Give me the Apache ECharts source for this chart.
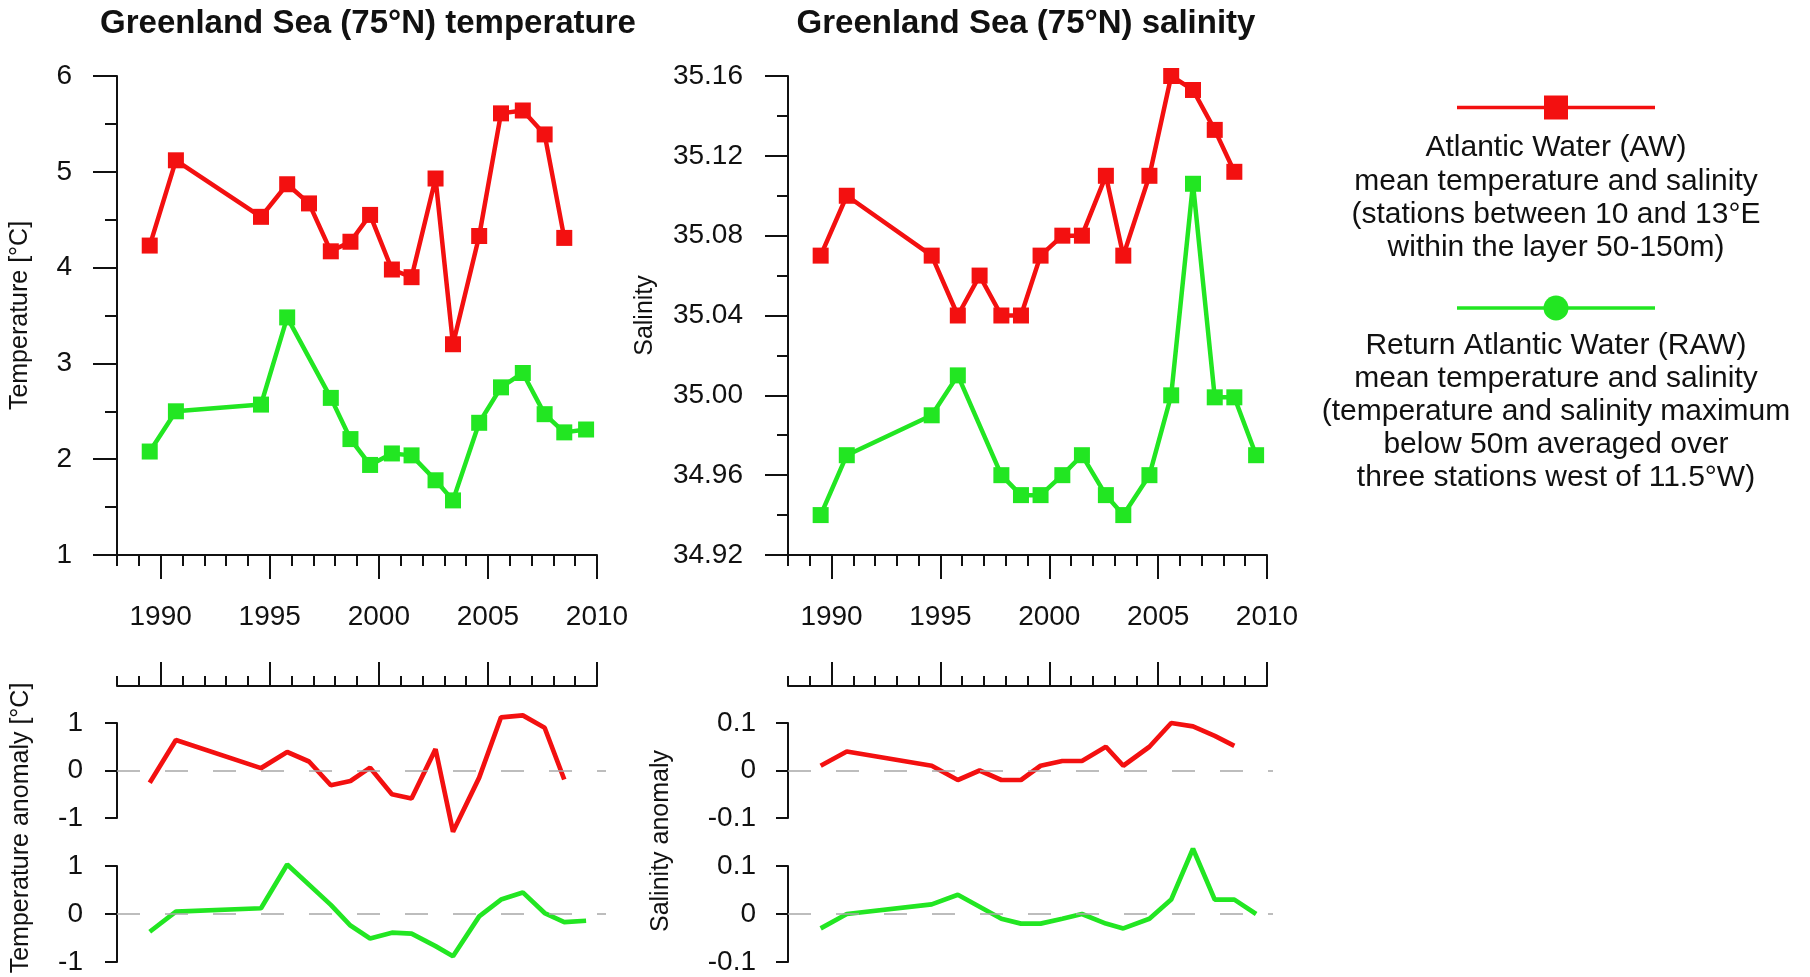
<!DOCTYPE html>
<html><head><meta charset="utf-8">
<script src="https://cdn.jsdelivr.net/npm/echarts@6/dist/echarts.min.js"></script>
<style>html,body{margin:0;padding:0;background:#fff}#c{width:1810px;height:977px}</style>
</head><body><div id="c"></div>
<script>
// ---------------- data ----------------
const yearsAW  = [1989.5, 1990.7, 1994.6, 1995.8, 1996.8, 1997.8, 1998.7, 1999.6, 2000.6, 2001.5, 2002.6, 2003.4, 2004.6, 2005.6, 2006.6, 2007.6, 2008.5];
const yearsRAW = [1989.5, 1990.7, 1994.6, 1995.8, 1997.8, 1998.7, 1999.6, 2000.6, 2001.5, 2002.6, 2003.4, 2004.6, 2005.6, 2006.6, 2007.6, 2008.5, 2009.5];
const awTemp   = [4.23, 5.12, 4.53, 4.87, 4.67, 4.17, 4.27, 4.55, 3.98, 3.90, 4.93, 3.20, 4.33, 5.61, 5.64, 5.39, 4.31];
const rawTemp  = [2.08, 2.50, 2.57, 3.48, 2.64, 2.21, 1.94, 2.06, 2.04, 1.78, 1.57, 2.38, 2.75, 2.90, 2.47, 2.28, 2.31];
const awSal    = [35.07, 35.10, 35.07, 35.04, 35.06, 35.04, 35.04, 35.07, 35.08, 35.08, 35.11, 35.07, 35.11, 35.16, 35.153, 35.133, 35.112];
const rawSal   = [34.94, 34.97, 34.99, 35.01, 34.96, 34.95, 34.95, 34.96, 34.97, 34.95, 34.94, 34.96, 35.00, 35.106, 34.999, 34.999, 34.97];
const awTempAnom  = [-0.26, 0.64, 0.05, 0.39, 0.19, -0.31, -0.22, 0.06, -0.50, -0.59, 0.45, -1.29, -0.15, 1.12, 1.16, 0.90, -0.19];
const rawTempAnom = [-0.37, 0.05, 0.12, 1.03, 0.19, -0.24, -0.51, -0.39, -0.41, -0.67, -0.88, -0.05, 0.30, 0.45, 0.02, -0.17, -0.14];
const awSalAnom   = [0.01, 0.04, 0.01, -0.02, 0.00, -0.02, -0.02, 0.01, 0.02, 0.02, 0.05, 0.01, 0.05, 0.10, 0.093, 0.073, 0.052];
const rawSalAnom  = [-0.03, 0.00, 0.02, 0.04, -0.01, -0.02, -0.02, -0.01, 0.00, -0.02, -0.03, -0.01, 0.03, 0.136, 0.03, 0.03, 0.00];
const majorYears = [1990, 1995, 2000, 2005, 2010];
const yearMin = 1988, yearMax = 2010;
const titles = ['Greenland Sea (75°N) temperature', 'Greenland Sea (75°N) salinity'];
const legendAW = 'Atlantic Water (AW)\nmean temperature and salinity\n(stations between 10 and 13°E\nwithin the layer 50-150m)';
const legendRAW = 'Return Atlantic Water (RAW)\nmean temperature and salinity\n(temperature and salinity maximum\nbelow 50m averaged over\nthree stations west of 11.5°W)';

// ---------------- style / layout ----------------
const F = "'Liberation Sans', Arial, Helvetica, sans-serif";
const RED = '#f31010', GREEN = '#22e622', INK = '#111';
const L = {x0: 117, x1: 597}, R = {x0: 788, x1: 1267};
const mainTop = 76, mainBot = 555, midAxisY = 686;
const an1 = [723, 818], an2 = [866, 962];
const dashRightL = 606, dashRightR = 1273;
const TICKFONT = 28;

const zip = (xs, ys) => xs.map((x, i) => [x, ys[i]]);
const line = {color: INK, width: 2};

const grids = [
  {left: L.x0, top: mainTop, width: L.x1 - L.x0, height: mainBot - mainTop},
  {left: R.x0, top: mainTop, width: R.x1 - R.x0, height: mainBot - mainTop},
  {left: L.x0, top: midAxisY - 60, width: L.x1 - L.x0, height: 60},
  {left: R.x0, top: midAxisY - 60, width: R.x1 - R.x0, height: 60},
  {left: L.x0, top: an1[0], width: dashRightL - L.x0, height: an1[1] - an1[0]},
  {left: L.x0, top: an2[0], width: dashRightL - L.x0, height: an2[1] - an2[0]},
  {left: R.x0, top: an1[0], width: dashRightR - R.x0, height: an1[1] - an1[0]},
  {left: R.x0, top: an2[0], width: dashRightR - R.x0, height: an2[1] - an2[0]}
];

function minorX(g, len, inside) {
  return {type: 'value', gridIndex: g, min: yearMin, max: yearMax, interval: 1, position: 'bottom',
    axisLine: {show: true, onZero: false, lineStyle: line},
    axisTick: {show: true, inside: inside, length: len, lineStyle: line},
    axisLabel: {show: false}, splitLine: {show: false}};
}
function majorX(g, len, inside, labels) {
  return {type: 'value', gridIndex: g, min: yearMin, max: yearMax, position: 'bottom',
    axisLine: {show: false, onZero: false},
    axisTick: {show: true, inside: inside, length: len, customValues: majorYears, lineStyle: line},
    axisLabel: labels ? {show: true, customValues: majorYears, formatter: v => String(v), margin: 48,
      fontSize: TICKFONT, color: INK, fontFamily: F} : {show: false},
    splitLine: {show: false}};
}
function anomX(grid, p, dashR) {
  const pxPerYear = (p.x1 - p.x0) / (yearMax - yearMin);
  return {type: 'value', gridIndex: grid, show: false, min: yearMin,
    max: yearMax + (dashR - p.x1) / pxPerYear, splitLine: {show: false}};
}
function hiddenY(g) {
  return {type: 'value', gridIndex: g, show: false, min: 0, max: 1, splitLine: {show: false}};
}
function anomY(g, lim, step, margin) {
  return {type: 'value', gridIndex: g, min: -lim, max: lim, interval: step,
    axisLine: {show: true, onZero: false, lineStyle: line},
    axisTick: {show: true, length: 12, lineStyle: line},
    axisLabel: {margin: margin, fontSize: TICKFONT, color: INK, fontFamily: F},
    splitLine: {show: false}};
}

const xAxes = [
  minorX(0, 11, false), majorX(0, 24, false, true),
  minorX(1, 11, false), majorX(1, 24, false, true),
  minorX(2, 10, true), majorX(2, 24, true, false),
  minorX(3, 10, true), majorX(3, 24, true, false),
  anomX(4, L, dashRightL), anomX(5, L, dashRightL), anomX(6, R, dashRightR), anomX(7, R, dashRightR)
];
const yAxes = [
  {type: 'value', gridIndex: 0, min: 1, max: 6, interval: 1,
    axisLine: {show: true, onZero: false, lineStyle: line},
    axisTick: {show: true, length: 24, lineStyle: line},
    minorTick: {show: true, splitNumber: 2, length: 12, lineStyle: line},
    axisLabel: {margin: 45, fontSize: TICKFONT, color: INK, fontFamily: F},
    splitLine: {show: false}, minorSplitLine: {show: false},
    name: 'Temperature [°C]', nameLocation: 'middle', nameGap: 84, nameRotate: 90,
    nameTextStyle: {fontSize: 25, color: INK, fontFamily: F}},
  {type: 'value', gridIndex: 1, min: 34.92, max: 35.16, interval: 0.04,
    axisLine: {show: true, onZero: false, lineStyle: line},
    axisTick: {show: true, length: 23, lineStyle: line},
    minorTick: {show: true, splitNumber: 2, length: 11, lineStyle: line},
    axisLabel: {margin: 45, fontSize: TICKFONT, color: INK, fontFamily: F, formatter: v => v.toFixed(2)},
    splitLine: {show: false}, minorSplitLine: {show: false},
    name: 'Salinity', nameLocation: 'middle', nameGap: 130, nameRotate: 90,
    nameTextStyle: {fontSize: 25, color: INK, fontFamily: F}},
  hiddenY(2), hiddenY(3),
  anomY(4, 1, 1, 34), anomY(5, 1, 1, 34), anomY(6, 0.1, 0.1, 32), anomY(7, 0.1, 0.1, 32)
];

const zeroLine = {silent: true, symbol: 'none', label: {show: false},
  lineStyle: {color: '#a8a8a8', width: 1.6, type: [23, 25]}, data: [{yAxis: 0}]};

function mainSeries(xi, yi, data, color) {
  return {type: 'line', xAxisIndex: xi, yAxisIndex: yi, data: data, symbol: 'rect', symbolSize: 16,
    showAllSymbol: true, lineStyle: {color: color, width: 4.5}, itemStyle: {color: color},
    animation: false, z: 3};
}
function anomSeries(xi, yi, data, color) {
  return {type: 'line', xAxisIndex: xi, yAxisIndex: yi, data: data, symbol: 'none', clip: false,
    lineStyle: {color: color, width: 4.7}, itemStyle: {color: color}, animation: false,
    markLine: zeroLine, z: 3};
}

const series = [
  mainSeries(0, 0, zip(yearsAW, awTemp), RED),
  mainSeries(0, 0, zip(yearsRAW, rawTemp), GREEN),
  mainSeries(2, 1, zip(yearsAW, awSal), RED),
  mainSeries(2, 1, zip(yearsRAW, rawSal), GREEN),
  anomSeries(8, 4, zip(yearsAW, awTempAnom), RED),
  anomSeries(9, 5, zip(yearsRAW, rawTempAnom), GREEN),
  anomSeries(10, 6, zip(yearsAW, awSalAnom), RED),
  anomSeries(11, 7, zip(yearsRAW, rawSalAnom), GREEN)
];

const legX = 1556, legX0 = 1457, legX1 = 1655;
const txt = (text, x, y, font, rot) => ({type: 'text', x: x, y: y, rotation: rot || 0,
  style: {text: text, textAlign: 'center', textVerticalAlign: 'middle', font: font, fill: INK}});
const graphic = [
  txt(titles[0], 368, 24, 'bold 33px ' + F),
  txt(titles[1], 1026, 24, 'bold 33px ' + F),
  txt('Temperature anomaly [°C]', 21, 828, '25px ' + F, Math.PI / 2),
  txt('Salinity anomaly', 661, 841, '25px ' + F, Math.PI / 2),
  {type: 'line', shape: {x1: legX0, y1: 107.5, x2: legX1, y2: 107.5}, style: {stroke: RED, lineWidth: 3.5}},
  {type: 'rect', shape: {x: legX - 12, y: 95.5, width: 24, height: 24}, style: {fill: RED}},
  {type: 'line', shape: {x1: legX0, y1: 308, x2: legX1, y2: 308}, style: {stroke: GREEN, lineWidth: 3.5}},
  {type: 'circle', shape: {cx: legX, cy: 308, r: 12.5}, style: {fill: GREEN}},
  {type: 'text', x: legX, y: 131.5, style: {text: legendAW, textAlign: 'center', textVerticalAlign: 'top',
    font: '30px ' + F, lineHeight: 33.3, fill: INK}},
  {type: 'text', x: legX, y: 329, style: {text: legendRAW, textAlign: 'center', textVerticalAlign: 'top',
    font: '30px ' + F, lineHeight: 33, fill: INK}}
];

const chart = echarts.init(document.getElementById('c'), null, {renderer: 'canvas'});
chart.setOption({
  backgroundColor: '#ffffff', animation: false,
  grid: grids, xAxis: xAxes, yAxis: yAxes, series: series, graphic: graphic
});
</script>
</body></html>
